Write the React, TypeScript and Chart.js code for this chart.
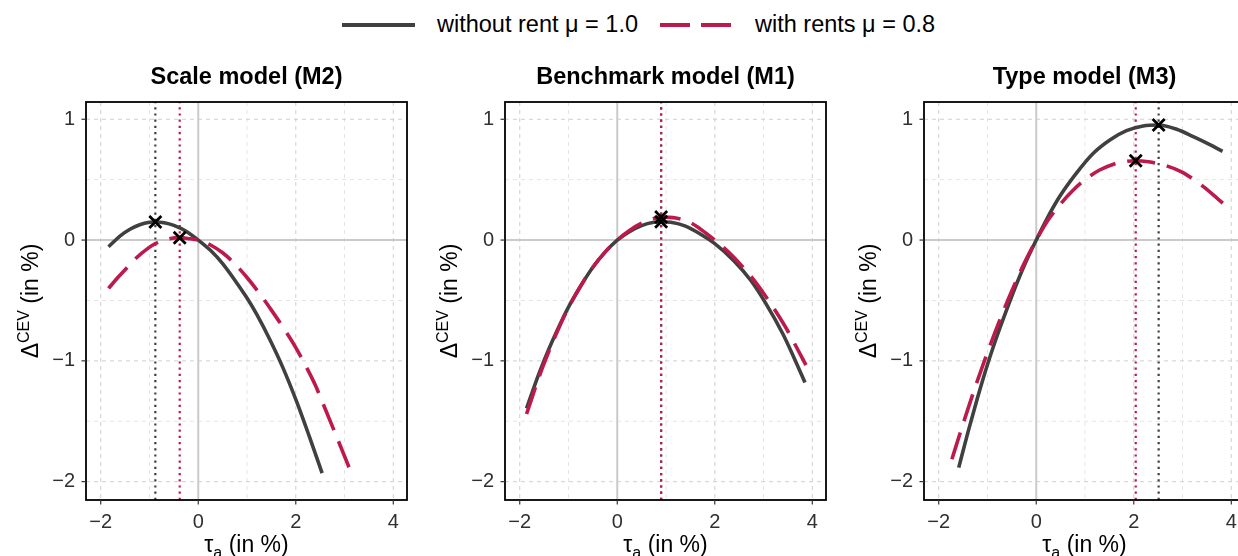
import React, { useEffect, useRef } from "react";
import { Chart, registerables } from "chart.js";

Chart.register(...registerables);

const FAMILY = '"Liberation Sans", Arial, Helvetica, sans-serif';
const DARK = "#404040";
const CRIMSON = "#BD1A4C";

// Shared axis limits and ticks (all three panels use the same scales)
const X_MIN = -2.302;
const X_MAX = 4.281;
const Y_MIN = -2.152;
const Y_MAX = 1.143;
const X_TICKS = [-2, 0, 2, 4];
const Y_TICKS = [-2, -1, 0, 1];
const X_MINOR = [-1, 1, 3];
const Y_MINOR = [-1.5, -0.5, 0.5];

const PANEL_TITLES = ["Scale model (M2)", "Benchmark model (M1)", "Type model (M3)"];
const SERIES_LABELS = ["without rent \u03bc = 1.0", "with rents \u03bc = 0.8"];

// Welfare change (CEV, %) against the tax rate tau_a (%): [tau, cev]
const scaleWithoutRent: [number, number][] = [
  [-1.84, -0.055], [-1.6, 0.035], [-1.4, 0.09], [-1.2, 0.127], [-1.0, 0.147], [-0.88, 0.15],
  [-0.7, 0.144], [-0.5, 0.122], [-0.25, 0.073], [0, 0], [0.25, -0.085], [0.5, -0.195],
  [0.79, -0.355], [1.0, -0.48], [1.2, -0.615], [1.47, -0.825], [1.74, -1.06], [2.02, -1.34],
  [2.29, -1.64], [2.54, -1.93],
];
const scaleWithRents: [number, number][] = [
  [-1.84, -0.4], [-1.65, -0.31], [-1.5, -0.245], [-1.29, -0.155], [-1.02, -0.065], [-0.88, -0.03],
  [-0.64, 0.007], [-0.38, 0.02], [-0.17, 0.011], [0, 0], [0.27, -0.045], [0.5, -0.105],
  [0.72, -0.185], [1.0, -0.31], [1.28, -0.455], [1.5, -0.58], [1.76, -0.735], [2.0, -0.89],
  [2.19, -1.03], [2.4, -1.2], [2.55, -1.345], [2.87, -1.66], [3.14, -1.93],
];
const benchWithoutRent: [number, number][] = [
  [-1.86, -1.393], [-1.6, -1.1], [-1.4, -0.9], [-1.2, -0.72], [-1.0, -0.555], [-0.75, -0.38],
  [-0.5, -0.225], [-0.25, -0.1], [0, 0], [0.25, 0.07], [0.5, 0.12], [0.75, 0.147], [0.9, 0.152],
  [1.1, 0.147], [1.4, 0.115], [1.71, 0.048], [2.0, -0.03], [2.4, -0.175], [2.74, -0.335],
  [3.04, -0.52], [3.4, -0.78], [3.62, -0.97], [3.85, -1.18],
];
const benchWithRents: [number, number][] = [
  [-1.86, -1.44], [-1.6, -1.13], [-1.4, -0.92], [-1.2, -0.73], [-1.0, -0.56], [-0.75, -0.38],
  [-0.5, -0.225], [-0.25, -0.1], [0, 0], [0.25, 0.08], [0.5, 0.14], [0.75, 0.178], [0.9, 0.19],
  [1.2, 0.182], [1.5, 0.145], [1.71, 0.09], [2.0, 0.0], [2.12, -0.04], [2.36, -0.13], [2.74, -0.3],
  [3.0, -0.44], [3.25, -0.59], [3.5, -0.755], [3.66, -0.875], [3.87, -1.035],
];
const typeWithoutRent: [number, number][] = [
  [-1.59, -1.884], [-1.4, -1.59], [-1.2, -1.3], [-1.0, -1.03], [-0.8, -0.79], [-0.6, -0.57],
  [-0.4, -0.36], [-0.2, -0.17], [0, 0], [0.2, 0.162], [0.48, 0.36], [0.82, 0.552], [1.16, 0.715],
  [1.51, 0.829], [1.85, 0.906], [2.19, 0.945], [2.51, 0.953], [2.88, 0.917], [3.22, 0.856],
  [3.56, 0.79], [3.82, 0.735],
];
const typeWithRents: [number, number][] = [
  [-1.73, -1.815], [-1.5, -1.52], [-1.25, -1.215], [-1.0, -0.93], [-0.75, -0.665], [-0.5, -0.42],
  [-0.25, -0.195], [0, 0], [0.25, 0.17], [0.5, 0.3], [0.75, 0.41], [1.0, 0.5], [1.3, 0.58],
  [1.6, 0.63], [1.85, 0.652], [2.04, 0.657], [2.3, 0.648], [2.67, 0.615], [2.98, 0.565],
  [3.2, 0.51], [3.42, 0.445], [3.63, 0.375], [3.87, 0.29],
];

// Optimal tax rate and its welfare gain, per panel
const optTauWithout = [-0.88, 0.9, 2.51];
const optCevWithout = [0.15, 0.152, 0.953];
const optTauRents = [-0.38, 0.9, 2.04];
const optCevRents = [0.02, 0.19, 0.657];

const CURVES_WITHOUT = [scaleWithoutRent, benchWithoutRent, typeWithoutRent];
const CURVES_RENTS = [scaleWithRents, benchWithRents, typeWithRents];

const fmt = (v: number) => (v < 0 ? "\u2212" + Math.abs(v) : String(v));

type Run = { text: string; size: number; dy: number };

function drawRuns(ctx: CanvasRenderingContext2D, runs: Run[], cx: number, baseline: number) {
  let total = 0;
  for (const r of runs) {
    ctx.font = `${r.size}px ${FAMILY}`;
    total += ctx.measureText(r.text).width;
  }
  let x = cx - total / 2;
  ctx.textAlign = "left";
  ctx.textBaseline = "alphabetic";
  for (const r of runs) {
    ctx.font = `${r.size}px ${FAMILY}`;
    ctx.fillText(r.text, x, baseline + r.dy);
    x += ctx.measureText(r.text).width;
  }
}

const framePlugin = {
  id: "frame",
  beforeDatasetsDraw(chart: any) {
    const { ctx, chartArea: a, scales } = chart;
    const xs = scales.x;
    const ys = scales.y;
    const vline = (v: number) => {
      const px = xs.getPixelForValue(v);
      ctx.beginPath();
      ctx.moveTo(px, a.top);
      ctx.lineTo(px, a.bottom);
      ctx.stroke();
    };
    const hline = (v: number) => {
      const py = ys.getPixelForValue(v);
      ctx.beginPath();
      ctx.moveTo(a.left, py);
      ctx.lineTo(a.right, py);
      ctx.stroke();
    };
    ctx.save();
    ctx.setLineDash([4, 4]);
    ctx.lineWidth = 0.9;
    ctx.strokeStyle = "#e2e2e2";
    X_MINOR.forEach(vline);
    Y_MINOR.forEach(hline);
    ctx.lineWidth = 1.1;
    ctx.strokeStyle = "#d4d4d4";
    X_TICKS.filter((v) => v !== 0).forEach(vline);
    Y_TICKS.filter((v) => v !== 0).forEach(hline);
    ctx.setLineDash([]);
    ctx.lineWidth = 2;
    ctx.strokeStyle = "#cacaca";
    vline(0);
    hline(0);
    ctx.restore();
  },
  afterDraw(chart: any, _args: any, opts: any) {
    const { ctx, chartArea: a, scales } = chart;
    const xs = scales.x;
    const ys = scales.y;
    ctx.save();
    // panel border
    ctx.strokeStyle = "#000";
    ctx.lineWidth = 1.8;
    ctx.strokeRect(a.left, a.top, a.right - a.left, a.bottom - a.top);
    // tick marks
    ctx.strokeStyle = "#333";
    ctx.lineWidth = 1.2;
    X_TICKS.forEach((v) => {
      const px = xs.getPixelForValue(v);
      ctx.beginPath();
      ctx.moveTo(px, a.bottom);
      ctx.lineTo(px, a.bottom + 4.5);
      ctx.stroke();
    });
    Y_TICKS.forEach((v) => {
      const py = ys.getPixelForValue(v);
      ctx.beginPath();
      ctx.moveTo(a.left - 4.5, py);
      ctx.lineTo(a.left, py);
      ctx.stroke();
    });
    // panel title
    ctx.fillStyle = "#000";
    ctx.font = `bold 23.5px ${FAMILY}`;
    ctx.textAlign = "center";
    ctx.textBaseline = "alphabetic";
    ctx.fillText(opts.title, (a.left + a.right) / 2, 84);
    // x-axis title: tau_a (in %)
    drawRuns(
      ctx,
      [
        { text: "\u03c4", size: 23, dy: 0 },
        { text: "a", size: 16, dy: 6 },
        { text: " (in %)", size: 23, dy: 0 },
      ],
      (a.left + a.right) / 2,
      552
    );
    // y-axis title: Delta^CEV (in %)
    ctx.translate(38, (a.top + a.bottom) / 2);
    ctx.rotate(-Math.PI / 2);
    drawRuns(
      ctx,
      [
        { text: "\u0394", size: 23, dy: 0 },
        { text: "CEV", size: 16, dy: -9.5 },
        { text: " (in %)", size: 23, dy: 0 },
      ],
      0,
      0
    );
    ctx.restore();
  },
};

function buildConfig(p: number): any {
  const toXY = (pts: [number, number][]) => pts.map(([x, y]) => ({ x, y }));
  const curve = (pts: [number, number][], color: string, dash: number[], order: number) => ({
    data: toXY(pts),
    borderColor: color,
    borderWidth: 3.6,
    borderDash: dash,
    borderCapStyle: "butt",
    pointRadius: 0,
    fill: false,
    cubicInterpolationMode: "monotone",
    order,
  });
  const optLine = (tau: number, color: string, order: number) => ({
    data: [
      { x: tau, y: Y_MIN },
      { x: tau, y: Y_MAX },
    ],
    borderColor: color,
    borderWidth: 2.2,
    borderDash: [2.2, 4],
    borderCapStyle: "butt",
    pointRadius: 0,
    fill: false,
    order,
  });
  const marker = (tau: number, cev: number, order: number) => ({
    data: [{ x: tau, y: cev }],
    showLine: false,
    pointStyle: "crossRot",
    pointRadius: 8.5,
    pointBorderWidth: 2.8,
    pointBorderColor: "#000",
    pointBackgroundColor: "#000",
    borderColor: "#000",
    order,
  });
  const tickFont = { size: 20, family: FAMILY };
  return {
    type: "line",
    data: {
      datasets: [
        { label: SERIES_LABELS[0], ...curve(CURVES_WITHOUT[p], DARK, [], 3) },
        { label: SERIES_LABELS[1], ...curve(CURVES_RENTS[p], CRIMSON, [28, 12], 2) },
        optLine(optTauWithout[p], DARK, 5),
        optLine(optTauRents[p], CRIMSON, 4),
        marker(optTauWithout[p], optCevWithout[p], 1),
        marker(optTauRents[p], optCevRents[p], 0),
      ],
    },
    options: {
      animation: false,
      responsive: false,
      devicePixelRatio: 1,
      events: [],
      layout: { padding: { top: 102, right: 12, left: 0, bottom: 0 } },
      scales: {
        x: {
          type: "linear",
          min: X_MIN,
          max: X_MAX,
          afterBuildTicks: (s: any) => {
            s.ticks = X_TICKS.map((value) => ({ value }));
          },
          afterFit: (s: any) => {
            s.height = 56;
          },
          grid: { display: false, drawTicks: false },
          border: { display: false },
          ticks: {
            font: tickFont,
            color: "#303030",
            padding: 10,
            maxRotation: 0,
            autoSkip: false,
            callback: (v: any) => fmt(Number(v)),
          },
        },
        y: {
          type: "linear",
          min: Y_MIN,
          max: Y_MAX,
          afterBuildTicks: (s: any) => {
            s.ticks = Y_TICKS.map((value) => ({ value }));
          },
          afterFit: (s: any) => {
            s.width = 86;
          },
          grid: { display: false, drawTicks: false },
          border: { display: false },
          ticks: {
            font: tickFont,
            color: "#303030",
            padding: 11,
            autoSkip: false,
            callback: (v: any) => fmt(Number(v)),
          },
        },
      },
      plugins: {
        legend: { display: false },
        tooltip: { enabled: false },
        frame: { title: PANEL_TITLES[p] },
      },
    },
    plugins: [framePlugin],
  };
}

function Panel({ index, left }: { index: number; left: number }) {
  const ref = useRef<HTMLCanvasElement>(null);
  useEffect(() => {
    const chart = new Chart(ref.current as HTMLCanvasElement, buildConfig(index));
    return () => chart.destroy();
  }, [index]);
  return (
    <canvas
      ref={ref}
      width={419}
      height={556}
      style={{ position: "absolute", left, top: 0, width: 419, height: 556 }}
    />
  );
}

const legendText: React.CSSProperties = {
  position: "absolute",
  top: 12,
  font: `23.5px ${FAMILY}`,
  lineHeight: "24px",
  whiteSpace: "nowrap",
  color: "#000",
};

export default function App() {
  return (
    <div
      style={{
        position: "absolute",
        left: 0,
        top: 0,
        width: 1238,
        height: 556,
        overflow: "hidden",
        background: "#fff",
      }}
    >
      <div style={{ position: "absolute", left: 342, top: 23, width: 73, height: 4, background: DARK }} />
      <span style={{ ...legendText, left: 437 }}>{SERIES_LABELS[0]}</span>
      <div style={{ position: "absolute", left: 660, top: 23, width: 30, height: 4, background: CRIMSON }} />
      <div style={{ position: "absolute", left: 701, top: 23, width: 30, height: 4, background: CRIMSON }} />
      <span style={{ ...legendText, left: 755 }}>{SERIES_LABELS[1]}</span>
      <Panel index={0} left={0} />
      <Panel index={1} left={419} />
      <Panel index={2} left={838} />
    </div>
  );
}
